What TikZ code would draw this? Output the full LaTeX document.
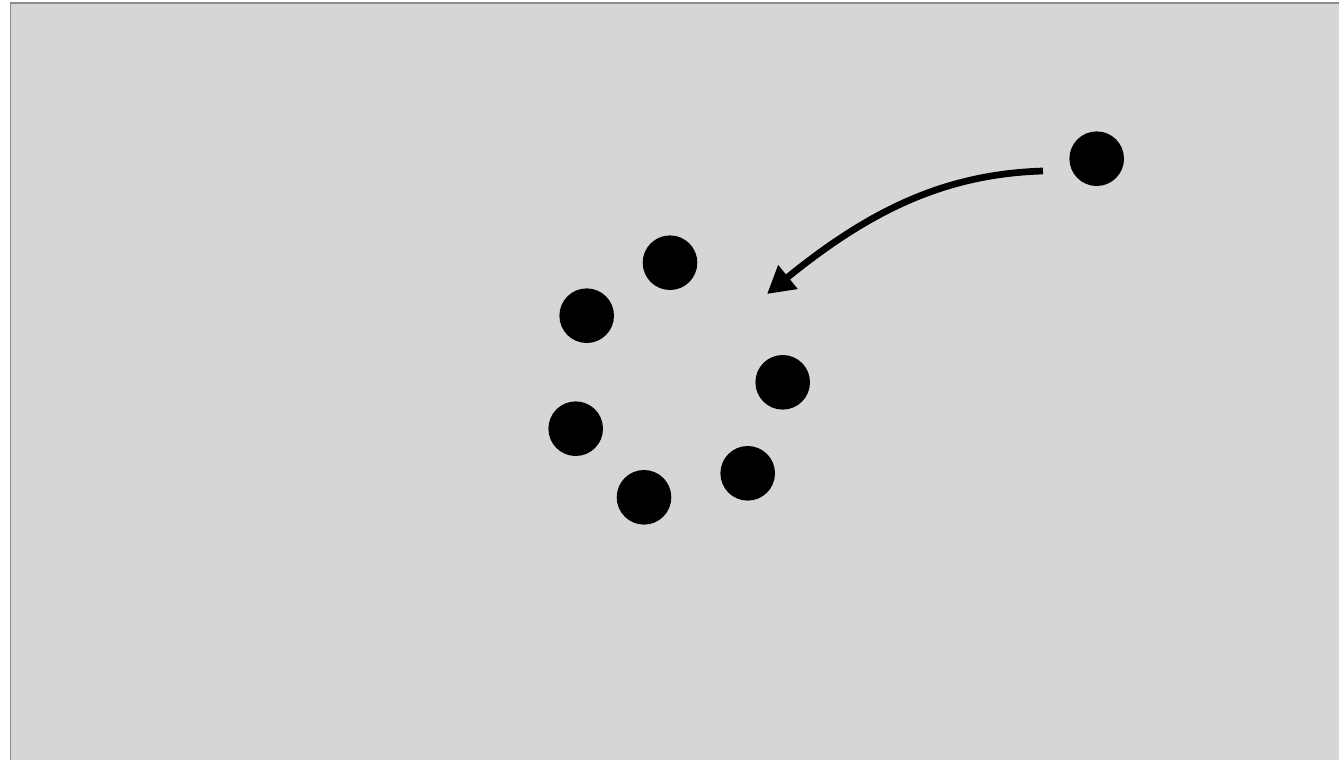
\documentclass[tikz,border=0pt]{standalone}
\usetikzlibrary{arrows.meta}
\definecolor{bg}{HTML}{D6D6D6}
\definecolor{frame}{HTML}{8C8C8C}
\tikzset{
  dot/.style={circle, fill=black, draw=none, minimum size=54.6pt, inner sep=0pt},
  bigarrow/.style={line width=6.7pt, -{Triangle[length=27pt,width=29pt]}}
}
\begin{document}
\begin{tikzpicture}[x=1pt,y=-1pt]
\useasboundingbox (0,0) rectangle (1339,760);
\fill[white] (0,0) rectangle (1339,760);
\filldraw[fill=bg, draw=frame, line width=1.5pt] (10.5,3) rectangle (1360,780);
\node[dot] (d1) at (670,262.7) {};
\node[dot] (d2) at (586.7,315.7) {};
\node[dot] (d3) at (782.7,382.3) {};
\node[dot] (d4) at (575.7,428.7) {};
\node[dot] (d5) at (644,497.3) {};
\node[dot] (d6) at (747.7,473.3) {};
\node[dot] (lone) at (1096.7,158.7) {};
\coordinate (from) at (1043,171);
\coordinate (to) at (767,294);
\draw[bigarrow] (from) .. controls (943,174) and (868,212) .. (to);
\end{tikzpicture}
\end{document}
